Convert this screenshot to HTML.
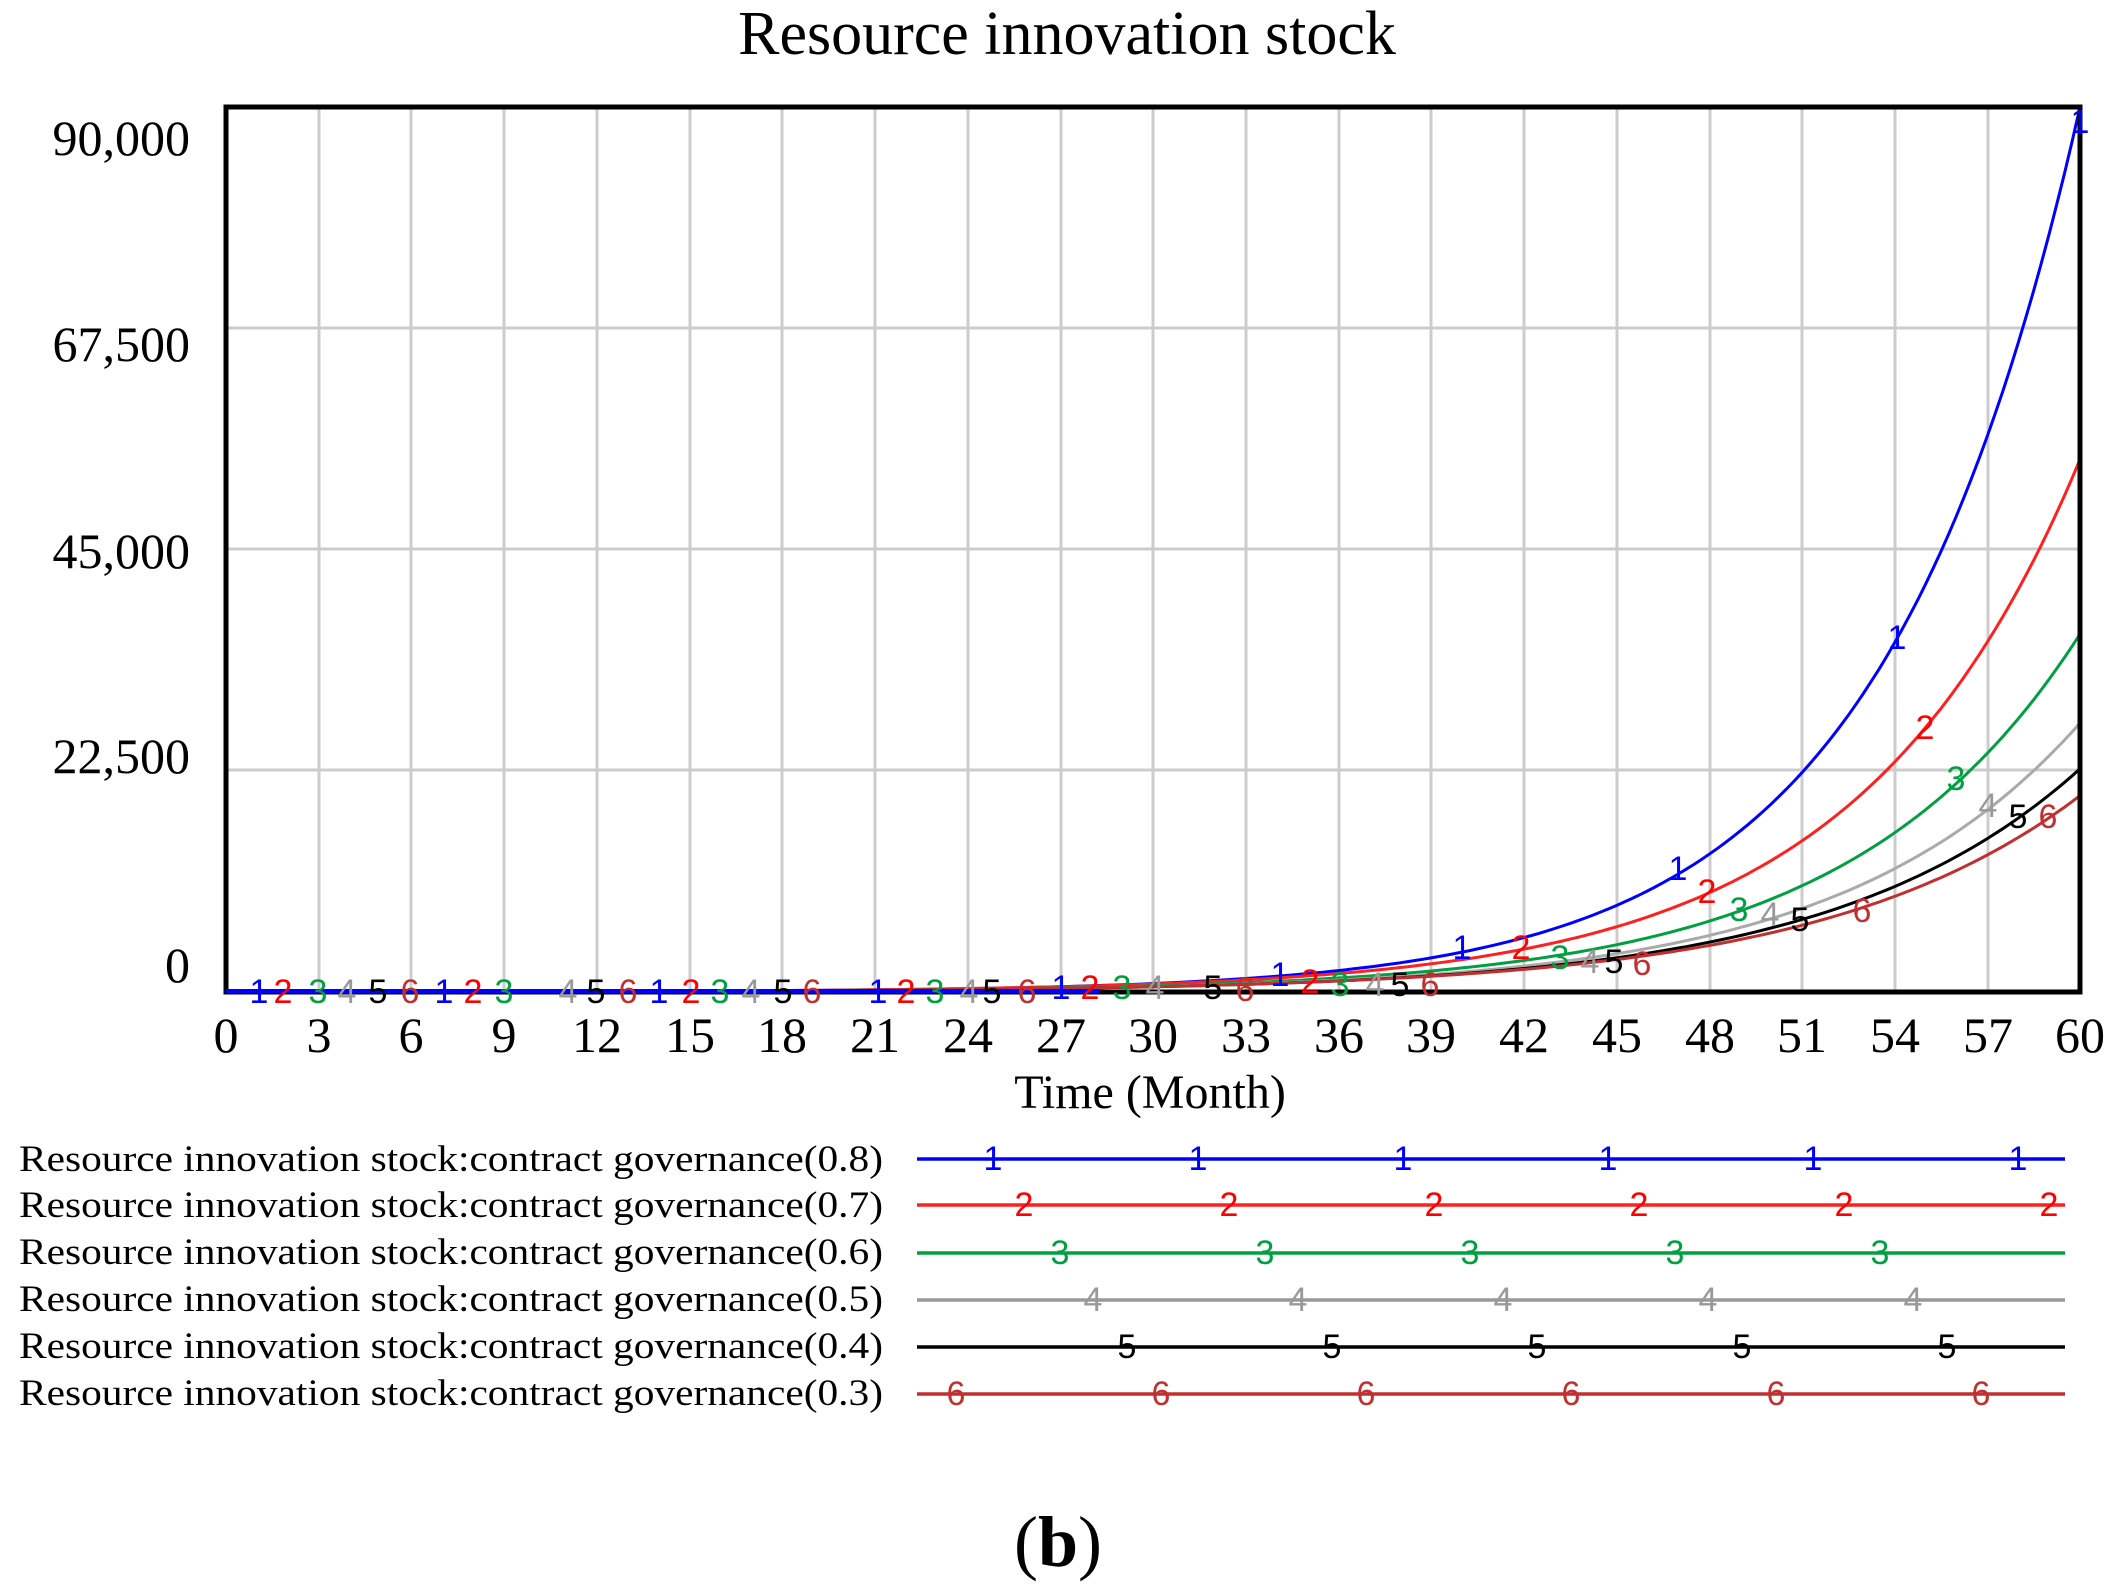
<!DOCTYPE html>
<html><head><meta charset="utf-8"><style>
html,body{margin:0;padding:0;background:#fff}
svg{display:block}
.t{font-family:"Liberation Serif",serif;fill:#000}
.d{font-family:"Liberation Sans",sans-serif;font-size:34px;text-anchor:middle;dominant-baseline:central}
</style></head><body>
<svg id="s" width="2114" height="1592" viewBox="0 0 2114 1592" xmlns="http://www.w3.org/2000/svg">
<text class="t" x="1067" y="54" font-size="62" text-anchor="middle">Resource innovation stock</text>
<g stroke="#cccccc" stroke-width="3">
<line x1="319" y1="107" x2="319" y2="992"/><line x1="411" y1="107" x2="411" y2="992"/><line x1="504" y1="107" x2="504" y2="992"/><line x1="597" y1="107" x2="597" y2="992"/><line x1="690" y1="107" x2="690" y2="992"/><line x1="782" y1="107" x2="782" y2="992"/><line x1="875" y1="107" x2="875" y2="992"/><line x1="968" y1="107" x2="968" y2="992"/><line x1="1061" y1="107" x2="1061" y2="992"/><line x1="1153" y1="107" x2="1153" y2="992"/><line x1="1246" y1="107" x2="1246" y2="992"/><line x1="1339" y1="107" x2="1339" y2="992"/><line x1="1431" y1="107" x2="1431" y2="992"/><line x1="1524" y1="107" x2="1524" y2="992"/><line x1="1617" y1="107" x2="1617" y2="992"/><line x1="1710" y1="107" x2="1710" y2="992"/><line x1="1802" y1="107" x2="1802" y2="992"/><line x1="1895" y1="107" x2="1895" y2="992"/><line x1="1988" y1="107" x2="1988" y2="992"/>
<line x1="226" y1="328" x2="2080" y2="328"/><line x1="226" y1="549" x2="2080" y2="549"/><line x1="226" y1="770" x2="2080" y2="770"/>
</g>
<g id="curves" fill="none" stroke-width="3"></g>
<rect x="226" y="107" width="1854" height="885" fill="none" stroke="#000" stroke-width="5"/>
<line x1="226" y1="991" x2="1100" y2="991" stroke="#0000ff" stroke-width="4"/>
<g class="t" font-size="50" text-anchor="end">
<text x="190" y="155">90,000</text><text x="190" y="361">67,500</text><text x="190" y="568">45,000</text><text x="190" y="773">22,500</text><text x="190" y="982">0</text>
</g>
<g class="t" font-size="50" text-anchor="middle">
<text x="226" y="1052">0</text><text x="319" y="1052">3</text><text x="411" y="1052">6</text><text x="504" y="1052">9</text><text x="597" y="1052">12</text><text x="690" y="1052">15</text><text x="782" y="1052">18</text><text x="875" y="1052">21</text><text x="968" y="1052">24</text><text x="1061" y="1052">27</text><text x="1153" y="1052">30</text><text x="1246" y="1052">33</text><text x="1339" y="1052">36</text><text x="1431" y="1052">39</text><text x="1524" y="1052">42</text><text x="1617" y="1052">45</text><text x="1710" y="1052">48</text><text x="1802" y="1052">51</text><text x="1895" y="1052">54</text><text x="1988" y="1052">57</text><text x="2080" y="1052">60</text>
<text x="1150" y="1108" font-size="48">Time (Month)</text>
</g>
<g class="d">
<text x="259" y="992" fill="#0000ff">1</text><text x="283" y="992" fill="#ff0000">2</text><text x="318" y="992" fill="#00a040">3</text><text x="347" y="992" fill="#999">4</text><text x="378" y="992" fill="#000">5</text><text x="410" y="992" fill="#c03030">6</text>
<text x="444" y="992" fill="#0000ff">1</text><text x="473" y="992" fill="#ff0000">2</text><text x="504" y="992" fill="#00a040">3</text><text x="568" y="992" fill="#999">4</text><text x="596" y="992" fill="#000">5</text><text x="628" y="992" fill="#c03030">6</text>
<text x="659" y="992" fill="#0000ff">1</text><text x="691" y="992" fill="#ff0000">2</text><text x="720" y="992" fill="#00a040">3</text><text x="751" y="992" fill="#999">4</text><text x="783" y="992" fill="#000">5</text><text x="812" y="992" fill="#c03030">6</text>
<text x="878" y="992" fill="#0000ff">1</text><text x="906" y="992" fill="#ff0000">2</text><text x="935" y="992" fill="#00a040">3</text><text x="969" y="992" fill="#999">4</text><text x="992" y="992" fill="#000">5</text><text x="1027" y="992" fill="#c03030">6</text>
<text x="1061" y="988" fill="#0000ff">1</text><text x="1090" y="988" fill="#ff0000">2</text><text x="1122" y="988" fill="#00a040">3</text><text x="1155" y="988" fill="#999">4</text><text x="1213" y="988" fill="#000">5</text><text x="1245" y="990" fill="#c03030">6</text>
<text x="1280" y="975" fill="#0000ff">1</text><text x="1310" y="982" fill="#ff0000">2</text><text x="1340" y="985" fill="#00a040">3</text><text x="1375" y="985" fill="#999">4</text><text x="1400" y="985" fill="#000">5</text><text x="1430" y="985" fill="#c03030">6</text>
<text x="1462" y="948" fill="#0000ff">1</text><text x="1521" y="948" fill="#ff0000">2</text><text x="1560" y="958" fill="#00a040">3</text><text x="1590" y="962" fill="#999">4</text><text x="1614" y="962" fill="#000">5</text><text x="1642" y="964" fill="#c03030">6</text>
<text x="1678" y="869" fill="#0000ff">1</text><text x="1707" y="892" fill="#ff0000">2</text><text x="1739" y="910" fill="#00a040">3</text><text x="1770" y="915" fill="#999">4</text><text x="1800" y="920" fill="#000">5</text><text x="1862" y="911" fill="#c03030">6</text>
<text x="1897" y="638" fill="#0000ff">1</text><text x="1925" y="728" fill="#ff0000">2</text><text x="1956" y="779" fill="#00a040">3</text><text x="1988" y="806" fill="#999">4</text><text x="2018" y="817" fill="#000">5</text><text x="2048" y="817" fill="#c03030">6</text>
<text x="2080" y="122" fill="#0000ff">1</text>
</g>
<g class="t" font-size="37">
<text x="19" y="1171" textLength="864" lengthAdjust="spacingAndGlyphs">Resource innovation stock:contract governance(0.8)</text>
<text x="19" y="1217" textLength="864" lengthAdjust="spacingAndGlyphs">Resource innovation stock:contract governance(0.7)</text>
<text x="19" y="1264" textLength="864" lengthAdjust="spacingAndGlyphs">Resource innovation stock:contract governance(0.6)</text>
<text x="19" y="1311" textLength="864" lengthAdjust="spacingAndGlyphs">Resource innovation stock:contract governance(0.5)</text>
<text x="19" y="1358" textLength="864" lengthAdjust="spacingAndGlyphs">Resource innovation stock:contract governance(0.4)</text>
<text x="19" y="1405" textLength="864" lengthAdjust="spacingAndGlyphs">Resource innovation stock:contract governance(0.3)</text>
</g>
<g stroke-width="3.5">
<line x1="917" y1="1159" x2="2065" y2="1159" stroke="#0000ff"/>
<line x1="917" y1="1205" x2="2065" y2="1205" stroke="#ff2020"/>
<line x1="917" y1="1253" x2="2065" y2="1253" stroke="#00a040"/>
<line x1="917" y1="1300" x2="2065" y2="1300" stroke="#999"/>
<line x1="917" y1="1347" x2="2065" y2="1347" stroke="#000"/>
<line x1="917" y1="1394" x2="2065" y2="1394" stroke="#c03030"/>
</g>
<g class="d">
<text x="993" y="1159" fill="#0000ff">1</text><text x="1198" y="1159" fill="#0000ff">1</text><text x="1403" y="1159" fill="#0000ff">1</text><text x="1608" y="1159" fill="#0000ff">1</text><text x="1813" y="1159" fill="#0000ff">1</text><text x="2018" y="1159" fill="#0000ff">1</text>
<text x="1024" y="1205" fill="#ff0000">2</text><text x="1229" y="1205" fill="#ff0000">2</text><text x="1434" y="1205" fill="#ff0000">2</text><text x="1639" y="1205" fill="#ff0000">2</text><text x="1844" y="1205" fill="#ff0000">2</text><text x="2049" y="1205" fill="#ff0000">2</text>
<text x="1060" y="1253" fill="#00a040">3</text><text x="1265" y="1253" fill="#00a040">3</text><text x="1470" y="1253" fill="#00a040">3</text><text x="1675" y="1253" fill="#00a040">3</text><text x="1880" y="1253" fill="#00a040">3</text>
<text x="1093" y="1300" fill="#999">4</text><text x="1298" y="1300" fill="#999">4</text><text x="1503" y="1300" fill="#999">4</text><text x="1708" y="1300" fill="#999">4</text><text x="1913" y="1300" fill="#999">4</text>
<text x="1127" y="1347" fill="#000">5</text><text x="1332" y="1347" fill="#000">5</text><text x="1537" y="1347" fill="#000">5</text><text x="1742" y="1347" fill="#000">5</text><text x="1947" y="1347" fill="#000">5</text>
<text x="956" y="1394" fill="#c03030">6</text><text x="1161" y="1394" fill="#c03030">6</text><text x="1366" y="1394" fill="#c03030">6</text><text x="1571" y="1394" fill="#c03030">6</text><text x="1776" y="1394" fill="#c03030">6</text><text x="1981" y="1394" fill="#c03030">6</text>
</g>
<text class="t" x="1058" y="1566" font-size="72" text-anchor="middle">(<tspan font-weight="bold">b</tspan>)</text>
</svg>
<script>
var series=[["#0000ff",90000,0.155],["#ff2020",54160,0.14],["#00a040",36400,0.135],["#aaaaaa",27350,0.13],["#000000",22700,0.125],["#c03030",19970,0.12]];
var g=document.getElementById("curves");
series.forEach(function(s){
 var d="";
 for(var t=0;t<=60.001;t+=0.25){
  var v=s[1]*Math.exp(s[2]*(t-60));
  var x=226+t*1854/60, y=992-v/90000*885;
  d+=(t==0?"M":"L")+x.toFixed(1)+" "+y.toFixed(1);
 }
 var p=document.createElementNS("http://www.w3.org/2000/svg","path");
 p.setAttribute("d",d);p.setAttribute("stroke",s[0]);g.appendChild(p);
});
</script>
</body></html>
